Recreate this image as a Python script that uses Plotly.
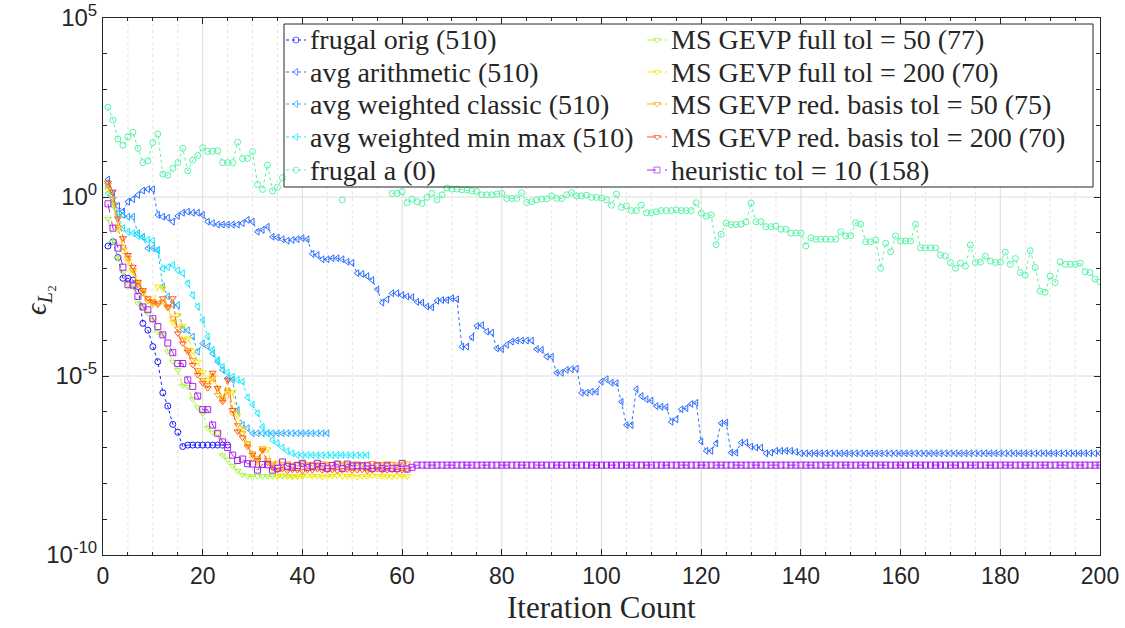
import plotly.graph_objects as go

# ---------------- data (log10 of the L2 error, per iteration 1..N) ----------------
# None = point hidden behind the legend box in the reference (not readable)
frugal_orig = [-1.37, -1.25, -1.69, -2.27, -2.27, -2.32, -2.50, -3.53, -3.72, -4.18,
               -4.60, -5.47, -5.84, -6.35, -6.57, -6.97, -6.93, -6.93, -6.93, -6.93,
               -6.93, -6.93, -6.93, -6.93, -6.93]

avg_arithmetic = [0.49, 0.10, -0.25, -0.40, -0.13, -0.06, 0.06, 0.18, 0.22, 0.22,
                  -0.50, -0.55, -0.58, -0.69, -0.53, -0.44, -0.41, -0.44, -0.44, -0.50,
                  -0.69, -0.73, -0.77, -0.77, -0.77, -0.77, -0.77, -0.73, -0.64, -0.69,
                  -0.97, -0.92, -0.83, -1.11, -1.13, -1.18, -1.22, -1.20, -1.18, -1.15,
                  -1.18, -1.59, -1.62, -1.74, -1.74, -1.71, -1.71, -1.74, -1.81, -1.84,
                  -2.13, -2.15, -2.21, -2.32, -2.58, -2.95, -2.86, -2.69, -2.69, -2.74,
                  -2.78, -2.80, -2.93, -2.95, -3.06, -3.08, -2.90, -2.88, -2.88, -2.83,
                  -2.86, -4.18, -4.18, -3.92, -3.60, -3.58, -3.76, -3.79, -4.23, -4.25,
                  -4.13, -4.04, -4.01, -4.01, -4.01, -4.01, -4.25, -4.27, -4.46, -4.46,
                  -4.91, -4.91, -4.83, -4.81, -4.79, -5.47, -5.47, -5.44, -5.44, -5.16,
                  -5.09, -5.19, -5.20, -5.72, -6.37, -6.37, -5.37, -5.56, -5.65, -5.69,
                  -5.84, -5.86, -5.87, -6.28, -6.21, -5.93, -5.90, -5.78, -5.75, -6.83,
                  -7.09, -7.09, -6.88, -6.32, -6.30, -7.14, -7.14, -6.86, -6.86, -6.97,
                  -7.00, -7.00, -7.16, -7.14, -7.09, -7.09, -7.09, -7.09, -7.12, -7.16,
                  -7.16, -7.16, -7.16, -7.16, -7.16, -7.16, -7.16, -7.16, -7.16, -7.16,
                  -7.16, -7.16, -7.16, -7.16, -7.16, -7.16, -7.16, -7.16, -7.16, -7.16,
                  -7.16, -7.16, -7.16, -7.16, -7.16, -7.16, -7.16, -7.16, -7.16, -7.16,
                  -7.16, -7.16, -7.16, -7.16, -7.16, -7.16, -7.16, -7.16, -7.16, -7.16,
                  -7.16, -7.16, -7.16, -7.16, -7.16, -7.16, -7.16, -7.16, -7.16, -7.16,
                  -7.16, -7.16, -7.16, -7.16, -7.16, -7.16, -7.16, -7.16, -7.16, -7.16]

avg_weighted_classic = [0.30, -0.05, -0.46, -0.50, -0.55, -0.55, -1.01, -1.11, -1.43, -1.43,
                        -1.48, -2.50, -2.78, -3.02, -3.02, -3.70, -3.72, -3.90, -4.32, -4.09,
                        -4.18, -4.37, -4.60, -4.83, -5.06, -5.11, -5.95, -6.37, -6.46, -6.60,
                        -6.60, -6.60, -6.60, -6.60, -6.60, -6.60, -6.60, -6.60, -6.60, -6.60,
                        -6.60, -6.60, -6.60, -6.60, -6.60]

avg_weighted_minmax = [0.10, -0.25, -0.55, -0.87, -0.97, -1.01, -1.09, -1.13, -1.20, -1.22,
                       -1.50, -2.00, -1.96, -1.90, -2.05, -2.13, -2.41, -2.74, -3.06, -3.44,
                       -3.90, -4.27, -4.55, -4.74, -4.91, -5.02, -5.11, -5.16, -5.60, -5.80,
                       -6.04, -6.42, -6.60, -6.79, -6.88, -7.00, -7.10, -7.16, -7.21, -7.21,
                       -7.21, -7.21, -7.21, -7.21, -7.21, -7.21, -7.21, -7.21, -7.21, -7.21,
                       -7.21, -7.21, -7.21]

frugal_a = [2.51, 2.15, 1.62, 1.45, 1.68, 1.81, 1.36, 0.96, 1.01, 1.52,
            1.76, 0.64, 0.61, 0.80, 0.96, 1.36, 0.73, 1.03, 1.16, 1.38,
            1.27, 1.28, 1.29, 0.96, 0.96, 0.96, 1.53, 1.07, 1.08, 1.27,
            0.35, 0.21, 0.89, 0.17, 0.27, 0.54, None, None, None, None,
            None, None, None, None, None, None, None, -0.08, None, None,
            None, None, None, None, None, None, None, 0.10, 0.10, 0.15,
            -0.16, -0.06, -0.13, -0.18, -0.01, 0.10, -0.08, 0.06, 0.25, 0.22,
            0.22, 0.20, 0.20, 0.17, 0.15, 0.06, 0.06, 0.06, 0.08, 0.10,
            -0.04, -0.04, -0.04, 0.12, -0.15, -0.13, -0.08, -0.06, -0.05, 0.03,
            -0.04, -0.04, 0.06, 0.12, 0.03, 0.03, 0.05, -0.01, -0.01, -0.03,
            -0.08, -0.23, 0.08, -0.29, -0.25, -0.38, -0.38, -0.23, -0.44, -0.44,
            -0.41, -0.38, -0.38, -0.38, -0.36, -0.38, -0.38, -0.38, -0.16, -0.45,
            -0.54, -0.50, -1.33, -1.04, -0.73, -0.77, -0.77, -0.76, -0.70, -0.17,
            -0.69, -0.69, -0.83, -0.83, -0.81, -0.90, -0.90, -1.01, -1.01, -1.01,
            -1.37, -1.14, -1.18, -1.18, -1.18, -1.18, -1.18, -0.97, -1.09, -1.08,
            -0.72, -0.76, -1.25, -1.25, -1.20, -1.99, -1.29, -1.53, -1.09, -1.23,
            -1.23, -1.23, -0.76, -1.42, -1.42, -1.42, -1.42, -1.62, -1.65, -1.83,
            -1.99, -1.85, -1.93, -1.34, -1.83, -1.82, -1.65, -1.79, -1.83, -1.82,
            -1.54, -1.88, -1.72, -2.11, -2.18, -1.50, -1.97, -2.63, -2.66, -2.21,
            -2.39, -1.81, -1.88, -1.88, -1.88, -1.85, -2.09, -2.11, -2.29, -2.37]

gevp_full_50 = [-0.61, -1.25, -1.70, -2.10, -2.43, -2.50, -2.97, -3.06, -3.25, -3.44,
                -3.78, -3.85, -4.32, -4.60, -4.83, -5.27, -5.31, -5.65, -5.88, -6.04,
                -6.45, -6.58, -6.60, -7.22, -7.34, -7.51, -7.65, -7.76, -7.80, -7.80,
                -7.80, -7.80, -7.80, -7.80, -7.80, -7.80, -7.80, -7.80, -7.80, -7.80]

gevp_full_200 = [0.20, -0.20, -0.90, -1.50, -1.80, -2.10, -2.40, -2.65, -2.90, -3.00,
                 -2.50, -2.55, -3.10, -3.50, -3.30, -3.60, -3.95, -4.30, -4.60, -4.90,
                 -5.10, -5.00, -5.35, -5.60, -5.40, -5.45, -6.10, -6.50, -6.90, -7.30,
                 -7.50, -7.05, -7.05, -7.60, -7.80, -7.78, -7.80, -7.82, -7.80, -7.80,
                 -7.78, -7.80, -7.80, -7.82, -7.80, -7.80, -7.78, -7.80, -7.80, -7.80,
                 -7.82, -7.80, -7.80, -7.78, -7.80, -7.80, -7.80, -7.82, -7.80, -7.80,
                 -7.80]

gevp_red_50 = [0.34, -0.04, -0.83, -1.39, -1.71, -2.04, -2.46, -2.69, -2.90, -2.97,
               -3.02, -2.92, -3.10, -3.39, -3.67, -3.99, -4.27, -4.55, -4.83, -5.11,
               -5.25, -5.06, -5.53, -5.67, -5.44, -6.04, -6.37, -6.60, -6.88, -7.16,
               -7.30, -7.02, -7.35, -7.45, -7.42, -7.46, -7.44, -7.48, -7.45, -7.43,
               -7.46, -7.45, -7.47, -7.44, -7.45, -7.46, -7.43, -7.45, -7.47, -7.45,
               -7.44, -7.46, -7.45, -7.43, -7.45, -7.46, -7.44, -7.45, -7.47, -7.45,
               -7.44]

gevp_red_200 = [0.40, 0.15, -0.60, -1.15, -1.62, -1.95, -2.37, -2.60, -2.83, -2.92,
                -2.97, -2.83, -3.06, -2.83, -3.81, -4.09, -4.32, -4.69, -4.97, -5.20,
                -5.34, -4.91, -5.34, -5.72, -5.11, -5.95, -6.55, -6.72, -6.97, -7.20,
                -7.35, -7.08, -7.42, -7.53, -7.63, -7.60, -7.65, -7.62, -7.63, -7.66,
                -7.62, -7.63, -7.60, -7.64, -7.63, -7.62, -7.65, -7.63, -7.61, -7.64,
                -7.63, -7.62, -7.65, -7.63, -7.60, -7.64, -7.63, -7.62, -7.65, -7.63,
                -7.62]

heuristic = [-0.19, -0.87, -1.43, -1.96, -2.45, -2.46, -2.78, -3.07, -3.15, -3.40,
             -3.62, -3.85, -4.08, -4.35, -4.65, -4.65, -5.11, -5.29, -5.56, -5.94,
             -5.94, -6.37, -6.60, -6.84, -7.00, -7.21, -7.36, -7.32, -7.45, -7.46,
             -7.63, -7.47, -7.48, -7.63, -7.58, -7.40, -7.52, -7.55, -7.50, -7.44,
             -7.55, -7.52, -7.44, -7.53, -7.58, -7.50, -7.46, -7.58, -7.46, -7.51,
             -7.51, -7.51, -7.51, -7.58, -7.51, -7.58, -7.51, -7.58, -7.58, -7.44,
             -7.60, -7.55] + [-7.49] * 138

series_names = ["frugal orig (510)", "avg arithmetic (510)", "avg weighted classic (510)",
                "avg weighted min max (510)", "frugal a (0)",
                "MS GEVP full tol = 50 (77)", "MS GEVP full tol = 200 (70)",
                "MS GEVP red. basis tol = 50 (75)", "MS GEVP red. basis tol = 200 (70)",
                "heuristic tol = 10 (158)"]
series_values = [frugal_orig, avg_arithmetic, avg_weighted_classic, avg_weighted_minmax,
                 frugal_a, gevp_full_50, gevp_full_200, gevp_red_50, gevp_red_200, heuristic]
series_colors = ["#1a1aff", "#2a6cff", "#1fa8ff", "#10e8ff", "#55f5a5",
                 "#a8f540", "#f5e800", "#ffaa10", "#ff5a10", "#a824f0"]
series_symbols = ["circle-open", "triangle-left-open", "triangle-left-open", "triangle-left-open",
                  "circle-open", "triangle-down-open", "triangle-down-open", "triangle-down-open",
                  "triangle-down-open", "square-open"]
series_dash = ["dot", "dot", "dot", "dot", "dot",
               "dashdot", "dashdot", "dashdot", "dashdot", "dash"]

y_tick_exp = [-10, -5, 0, 5]
x_ticks = list(range(0, 201, 20))
x_minor_step = 5

# ---------------- figure geometry ----------------
W, H = 1125, 628
L, R, T, B = 103, 25, 18, 73
PW, PH = W - L - R, H - T - B
SERIF = "Liberation Serif"
SANS = "Liberation Sans"
LEG_SIZE = 28
axis_col = "#262626"
X_MIN, X_MAX = 0, 200
E_MIN, E_MAX = -10, 5
BOX = dict(left=284, right=1093, top=24, bottom=187)      # legend box, px
rows_px = [40, 72, 104, 137, 170]
cols_px = [308, 669]

def px_x(p):
    return (p - L) / PW

def px_y(p):
    return (H - B - p) / PH

fig = go.Figure()
for i, (nm, vals, col, sym, dsh) in enumerate(zip(series_names, series_values, series_colors,
                                                  series_symbols, series_dash)):
    xs = list(range(1, len(vals) + 1))
    ys = [None if v is None else 10 ** v for v in vals]
    fig.add_trace(go.Scatter(
        x=xs, y=ys, mode="lines+markers", name=nm, showlegend=False,
        line=dict(color=col, width=1, dash=dsh),
        marker=dict(symbol=sym, size=6, color=col, line=dict(width=1, color=col)),
    ))

# legend key samples (drawn on an overlay axis spanning the plot area 0..1)
for i, (nm, col, sym, dsh) in enumerate(zip(series_names, series_colors, series_symbols, series_dash)):
    c, r = divmod(i, 5)
    x0, x1 = px_x(cols_px[c] - 22), px_x(cols_px[c] - 2)
    yy = px_y(rows_px[r])
    fig.add_trace(go.Scatter(
        x=[x0, (x0 + x1) / 2, x1], y=[yy, yy, yy], xaxis="x2", yaxis="y2",
        mode="lines+markers", name=nm, showlegend=False, hoverinfo="skip",
        line=dict(color=col, width=1, dash=dsh),
        marker=dict(symbol=sym, size=[0, 6, 0], color=col, line=dict(width=1, color=col)),
    ))

xaxis = dict(
    range=[X_MIN, X_MAX], tickmode="array", tickvals=x_ticks, ticks="inside", ticklen=6,
    tickcolor=axis_col, showline=True, linecolor=axis_col, linewidth=1, mirror="ticks",
    showgrid=False, zeroline=False, automargin=False,
    tickfont=dict(family=SANS, size=23, color=axis_col),
    minor=dict(dtick=x_minor_step, tick0=0, showgrid=False, ticks="inside", ticklen=3,
               tickcolor=axis_col),
)
yaxis = dict(
    type="log", range=[E_MIN, E_MAX], tickmode="array",
    tickvals=[10.0 ** e for e in y_tick_exp],
    ticktext=[f"10<sup>{e}</sup>" for e in y_tick_exp],
    ticks="inside", ticklen=6, tickcolor=axis_col,
    showline=True, linecolor=axis_col, linewidth=1, mirror="ticks",
    showgrid=False, zeroline=False, automargin=False,
    tickfont=dict(family=SANS, size=24, color=axis_col),
    minor=dict(tickmode="array", tickvals=[10.0 ** e for e in range(E_MIN, E_MAX + 1)],
               showgrid=False, ticks="inside", ticklen=4, tickcolor=axis_col),
)

# grid lines as shapes so they stop at the legend box (as in the reference)
box_x_lo = X_MIN + (BOX["left"] - L) / PW * (X_MAX - X_MIN)
box_x_hi = X_MIN + (BOX["right"] - L) / PW * (X_MAX - X_MIN)
shapes = []
for v in range(X_MIN + x_minor_step, X_MAX, x_minor_step):
    major = v in x_ticks
    top = px_y(BOX["bottom"]) if box_x_lo < v < box_x_hi else 1
    shapes.append(dict(type="line", xref="x", yref="paper", x0=v, x1=v, y0=0, y1=top,
                       layer="below",
                       line=dict(color="#dcdcdc" if major else "#e4e4e4", width=1,
                                 dash="solid" if major else "dot")))
for e in y_tick_exp[1:-1]:
    yp = (e - E_MIN) / (E_MAX - E_MIN)
    shapes.append(dict(type="line", xref="paper", yref="paper", x0=0, x1=1, y0=yp, y1=yp,
                       layer="below", line=dict(color="#dcdcdc", width=1)))
# legend box outline
bx0, bx1 = px_x(BOX["left"]), px_x(BOX["right"])
by0, by1 = px_y(BOX["bottom"]), px_y(BOX["top"])
for (a0, b0, a1, b1) in [(bx0, by0, bx1, by0), (bx0, by1, bx1, by1),
                         (bx0, by0, bx0, by1), (bx1, by0, bx1, by1)]:
    shapes.append(dict(type="line", xref="paper", yref="paper", x0=a0, y0=b0, x1=a1, y1=b1,
                       layer="above", line=dict(color=axis_col, width=1)))

annotations = [
    dict(text="Iteration Count", xref="paper", yref="paper", x=0.5, y=px_y(607),
         xanchor="center", yanchor="middle", showarrow=False,
         font=dict(family=SERIF, size=31, color=axis_col)),
    dict(text="<i>ϵ</i><sub><i>L</i>₂</sub>", xref="paper", yref="paper", x=px_x(38), y=px_y(300),
         xanchor="center", yanchor="middle", showarrow=False, textangle=-90,
         font=dict(family=SERIF, size=29, color=axis_col)),
]
for i, nm in enumerate(series_names):
    c, r = divmod(i, 5)
    annotations.append(dict(text=nm, xref="paper", yref="paper", x=px_x(cols_px[c]),
                            y=px_y(rows_px[r]), xanchor="left", yanchor="middle",
                            showarrow=False,
                            font=dict(family=SERIF, size=LEG_SIZE, color=axis_col)))

fig.update_layout(
    width=W, height=H, margin=dict(l=L, r=R, t=T, b=B, autoexpand=False),
    paper_bgcolor="white", plot_bgcolor="white", showlegend=False,
    font=dict(family=SERIF, size=LEG_SIZE, color=axis_col),
    xaxis=xaxis, yaxis=yaxis,
    xaxis2=dict(overlaying="x", range=[0, 1], visible=False, fixedrange=True),
    yaxis2=dict(overlaying="y", range=[0, 1], visible=False, fixedrange=True),
    shapes=shapes, annotations=annotations,
)

fig.write_html("out.html")
